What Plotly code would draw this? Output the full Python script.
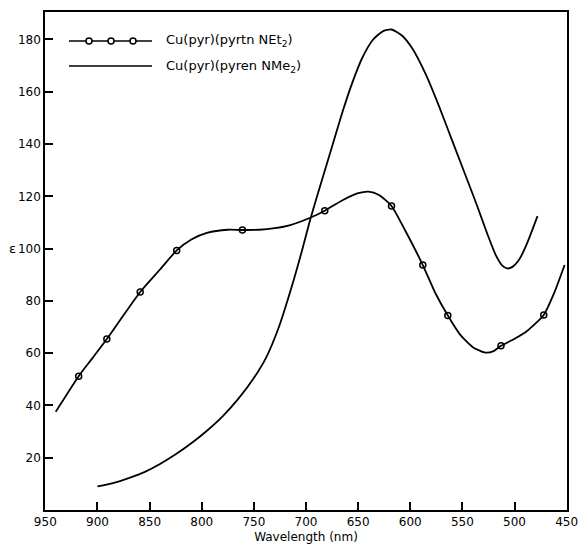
import plotly.graph_objects as go

# Series 1: Cu(pyr)(pyrtn NEt2) - curve and measured points (circles)
wl1 = [940, 918, 905, 891, 875, 859, 840, 824, 810, 795, 775, 761, 745, 730, 715,
       696, 682, 665, 650, 640, 630, 618, 605, 588, 576, 564, 552, 540, 528, 520,
       513, 500, 488, 472, 462, 452]
v1 = [37.6, 51.2, 58, 65.4, 74.5, 83.4, 92, 99.3, 103.5, 106, 107.2, 107.1, 107.2,
      107.8, 109, 111.8, 114.5, 118.5, 121.2, 121.8, 120.5, 116.3, 107, 93.7, 83,
      74.4, 67, 62.3, 60.2, 60.8, 62.8, 65.5, 68.5, 74.6, 83, 93.7]
mk_wl = [918, 891, 859, 824, 761, 682, 618, 588, 564, 513, 472]
mk_v = [51.2, 65.4, 83.4, 99.3, 107.1, 114.5, 116.3, 93.7, 74.4, 62.8, 74.6]

# Series 2: Cu(pyr)(pyren NMe2)
wl2 = [900, 885, 870, 855, 840, 825, 810, 795, 780, 765, 750, 738, 726, 714, 704,
       696, 686, 676, 666, 656, 646, 636, 626, 618, 608, 598, 585, 572, 560, 548,
       536, 526, 518, 512, 507, 502, 496, 488, 478]
v2 = [9, 10.3, 12.2, 14.5, 17.6, 21.3, 25.5, 30.3, 35.8, 42.5, 50.5, 58.5, 70, 85,
      99, 111, 124.5, 137.7, 151, 163, 173, 179.8, 183.2, 183.8, 181.5, 176.5, 166.5,
      154, 141.5, 129, 116.5, 105.5, 97.5, 93.6, 92.4, 93, 95.5, 102, 112.4]

x_ticks = [950, 900, 850, 800, 750, 700, 650, 600, 550, 500, 450]
y_ticks = [20, 40, 60, 80, 100, 120, 140, 160, 180]
names = ["Cu(pyr)(pyrtn NEt<sub>2</sub>)", "Cu(pyr)(pyren NMe<sub>2</sub>)"]

FONT = "DejaVu Sans"
fig = go.Figure()
fig.add_trace(go.Scatter(x=wl1, y=v1, mode="lines",
                         line=dict(color="black", width=1.8, shape="spline", smoothing=0.6),
                         showlegend=False, hoverinfo="skip"))
fig.add_trace(go.Scatter(x=mk_wl, y=mk_v, mode="markers",
                         marker=dict(symbol="circle-open", size=6, color="black", line=dict(width=1.5)),
                         showlegend=False))
fig.add_trace(go.Scatter(x=wl2, y=v2, mode="lines",
                         line=dict(color="black", width=1.8, shape="spline", smoothing=0.6),
                         showlegend=False))

L, R, T, B = 45, 11, 12, 40
W, H = 578, 550
pw, ph = W - L - R, H - T - B


def px(xp):
    return (xp - L) / pw


def py(yp):
    return (H - B - yp) / ph


shapes = []
# custom legend samples
for row_y in (41, 66):
    shapes.append(dict(type="line", xref="paper", yref="paper", x0=px(69), x1=px(152),
                       y0=py(row_y), y1=py(row_y), line=dict(color="black", width=1.5)))
for cx in (89, 111, 133):
    shapes.append(dict(type="circle", xref="paper", yref="paper",
                       x0=px(cx - 3), x1=px(cx + 3), y0=py(41 - 3), y1=py(41 + 3),
                       line=dict(color="black", width=1.5), fillcolor="white"))

annotations = [
    dict(text=names[0], xref="paper", yref="paper", x=px(164), y=py(41), xanchor="left", yanchor="middle",
         showarrow=False, font=dict(family=FONT, size=13, color="black")),
    dict(text=names[1], xref="paper", yref="paper", x=px(164), y=py(66), xanchor="left", yanchor="middle",
         showarrow=False, font=dict(family=FONT, size=13, color="black")),
    dict(text="ε", xref="paper", yref="y", x=px(12), y=100, xanchor="center", yanchor="middle",
         showarrow=False, font=dict(family=FONT, size=13, color="black")),
]

fig.update_layout(
    width=W, height=H,
    margin=dict(l=L, r=R, t=T, b=B),
    paper_bgcolor="white", plot_bgcolor="white",
    font=dict(family=FONT, size=12, color="black"),
    shapes=shapes, annotations=annotations,
    xaxis=dict(range=[950.3, 449.7], tickvals=x_ticks, ticktext=[str(v) for v in x_ticks],
               ticks="inside", ticklen=8, tickwidth=1.5, tickcolor="black",
               showline=True, linecolor="black", linewidth=1.5, mirror=True,
               showgrid=False, zeroline=False, automargin=False, ticklabeloverflow="allow",
               title=dict(text="Wavelength (nm)", standoff=4, font=dict(family=FONT, size=12))),
    yaxis=dict(range=[0, 190.5], tickvals=y_ticks, ticktext=[str(v) for v in y_ticks],
               ticks="inside", ticklen=8, tickwidth=1.5, tickcolor="black",
               showline=True, linecolor="black", linewidth=1.5, mirror=True,
               showgrid=False, zeroline=False, automargin=False, ticklabeloverflow="allow"),
)

fig.write_html("out.html", config={"displayModeBar": False},
               post_script="document.body.style.margin='0px';")
